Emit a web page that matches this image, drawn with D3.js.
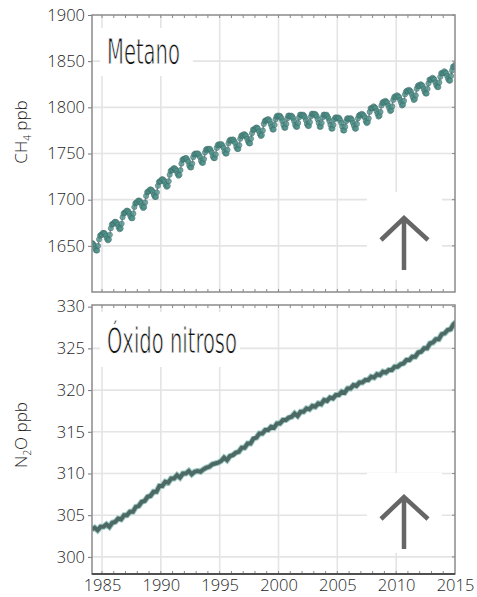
<!DOCTYPE html>
<html>
<head>
<meta charset="utf-8">
<script src="https://cdn.jsdelivr.net/npm/d3@7"></script>
<style>
  body { margin: 0; background: #fff; }
  .tick text { font-family: "Open Sans", sans-serif; font-weight: 300; font-size: 16.5px; fill: #1e1e1e; }
</style>
</head>
<body>
<div id="chart"></div>
<script>
// Chart size
var svgWidth = 477;
var svgHeight = 597;

// plot area edges
var left = 92, right = 455;
var top1 = 15, bottom1 = 292;
var top2 = 305, bottom2 = 574;

// tick values
var yearTicks = [1985, 1990, 1995, 2000, 2005, 2010, 2015];
var ch4Ticks = [1650, 1700, 1750, 1800, 1850, 1900];
var n2oTicks = [300, 305, 310, 315, 320, 325, 330];

// methane, monthly, first value Feb 1984
var ch4Start = 1984 + 1 / 12;
var ch4Values = [
  1653, 1653, 1652, 1650, 1647, 1645, 1645, 1650, 1657, 1661, 1662,
  1662, 1664, 1664, 1663, 1661, 1658, 1656, 1657, 1662, 1669, 1673, 1674,
  1674, 1676, 1676, 1675, 1673, 1670, 1668, 1669, 1674, 1681, 1685, 1686,
  1686, 1688, 1688, 1687, 1685, 1682, 1680, 1680, 1685, 1692, 1696, 1697,
  1697, 1699, 1699, 1698, 1696, 1693, 1691, 1692, 1697, 1704, 1708, 1709,
  1709, 1711, 1711, 1710, 1708, 1705, 1703, 1703, 1708, 1715, 1719, 1720,
  1720, 1722, 1722, 1721, 1719, 1716, 1714, 1715, 1720, 1727, 1731, 1732,
  1732, 1734, 1734, 1733, 1731, 1728, 1726, 1727, 1732, 1739, 1743, 1744,
  1744, 1745, 1745, 1743, 1741, 1737, 1735, 1735, 1739, 1746, 1749, 1750,
  1749, 1750, 1750, 1748, 1746, 1742, 1740, 1740, 1744, 1751, 1754, 1755,
  1754, 1755, 1755, 1753, 1751, 1747, 1745, 1745, 1749, 1756, 1759, 1760,
  1759, 1760, 1760, 1758, 1756, 1752, 1750, 1750, 1754, 1761, 1764, 1765,
  1764, 1765, 1765, 1763, 1761, 1757, 1755, 1755, 1759, 1766, 1769, 1770,
  1769, 1771, 1770, 1769, 1766, 1763, 1761, 1761, 1766, 1772, 1776, 1776,
  1776, 1778, 1778, 1777, 1774, 1771, 1769, 1770, 1775, 1782, 1785, 1786,
  1786, 1787, 1787, 1785, 1782, 1779, 1776, 1776, 1781, 1787, 1790, 1791,
  1790, 1791, 1790, 1788, 1785, 1781, 1778, 1778, 1782, 1788, 1791, 1791,
  1790, 1791, 1790, 1788, 1785, 1781, 1779, 1779, 1783, 1789, 1792, 1792,
  1791, 1792, 1791, 1789, 1786, 1782, 1780, 1780, 1784, 1790, 1793, 1793,
  1792, 1793, 1792, 1790, 1787, 1783, 1779, 1779, 1783, 1789, 1792, 1792,
  1791, 1792, 1790, 1788, 1785, 1781, 1777, 1777, 1781, 1787, 1789, 1789,
  1788, 1789, 1788, 1786, 1783, 1779, 1775, 1775, 1779, 1785, 1788, 1788,
  1787, 1788, 1788, 1786, 1783, 1780, 1777, 1777, 1782, 1788, 1791, 1792,
  1791, 1793, 1792, 1791, 1789, 1785, 1783, 1784, 1788, 1795, 1799, 1799,
  1799, 1801, 1800, 1799, 1796, 1793, 1790, 1791, 1795, 1802, 1805, 1806,
  1805, 1807, 1806, 1805, 1802, 1799, 1796, 1797, 1801, 1808, 1811, 1812,
  1811, 1813, 1812, 1811, 1808, 1805, 1802, 1803, 1807, 1814, 1817, 1818,
  1817, 1819, 1818, 1817, 1814, 1811, 1808, 1809, 1813, 1820, 1823, 1824,
  1823, 1825, 1824, 1823, 1820, 1817, 1815, 1815, 1820, 1826, 1830, 1830,
  1830, 1832, 1831, 1830, 1827, 1824, 1822, 1822, 1827, 1833, 1837, 1837,
  1837, 1839, 1838, 1837, 1834, 1831, 1829, 1829, 1834, 1840, 1844, 1844,
  1846
];

// nitrous oxide, quarterly, first value early 1984
var n2oStart = 1984.125;
var n2oValues = [
  303.3, 303.5, 303.2, 303.6,
  303.6, 303.9, 303.6, 304.1,
  304.2, 304.6, 304.5, 305.0,
  305.0, 305.4, 305.4, 306.0,
  306.1, 306.6, 306.7, 307.2,
  307.3, 307.8, 307.8, 308.5,
  308.5, 309.0, 308.9, 309.4,
  309.4, 309.8, 309.5, 310.0,
  310.0, 310.3, 309.9, 310.2,
  310.3, 310.2, 310.5, 310.7,
  310.8, 311.1, 311.2, 311.3,
  311.5, 311.9, 311.6, 312.1,
  312.2, 312.5, 312.6, 313.1,
  313.1, 313.6, 313.6, 314.2,
  314.3, 314.8, 314.8, 315.2,
  315.2, 315.6, 315.5, 316.0,
  316.0, 316.4, 316.4, 316.7,
  316.8, 317.2, 316.9, 317.4,
  317.4, 317.8, 317.7, 318.1,
  318.0, 318.4, 318.3, 318.8,
  318.7, 319.1, 319.0, 319.4,
  319.4, 319.8, 319.7, 320.2,
  320.2, 320.6, 320.5, 320.9,
  320.9, 321.2, 321.2, 321.6,
  321.5, 321.9, 321.8, 322.2,
  322.1, 322.4, 322.4, 322.8,
  322.8, 323.1, 323.2, 323.6,
  323.6, 324.0, 324.0, 324.5,
  324.6, 325.0, 325.0, 325.6,
  325.7, 326.1, 326.1, 326.7,
  326.8, 327.2, 327.3, 327.9,
  328.2
];

var svg = d3.select("#chart")
  .append("svg")
  .attr("width", svgWidth)
  .attr("height", svgHeight);

// scales
var xScale = d3.scaleLinear().domain([1984.15, 2015]).range([left, right]);
var yCh4 = d3.scaleLinear().domain([1600, 1900]).range([bottom1, top1]);
var yN2o = d3.scaleLinear().domain([297.95, 330.2]).range([bottom2, top2]);

var ch4Data = ch4Values.map(function(v, i) { return { t: ch4Start + i / 12, v: v }; });
var n2oData = n2oValues.map(function(v, i) { return { t: n2oStart + i / 4, v: v }; });

var defs = svg.append("defs");

function drawPanel(id, yScale, ticks, top, bottom) {
  var g = svg.append("g");

  defs.append("clipPath").attr("id", id)
    .append("rect")
    .attr("x", left).attr("y", top)
    .attr("width", right - left).attr("height", bottom - top);

  // grid
  g.selectAll(".vgrid")
    .data(yearTicks.slice(0, -1))
    .enter().append("line")
    .attr("x1", d => xScale(d)).attr("x2", d => xScale(d))
    .attr("y1", top).attr("y2", bottom)
    .attr("stroke", "#e4e4e4").attr("stroke-width", 1.6);

  g.selectAll(".hgrid")
    .data(ticks.filter(d => yScale(d) > top + 2))
    .enter().append("line")
    .attr("x1", left).attr("x2", right)
    .attr("y1", d => yScale(d)).attr("y2", d => yScale(d))
    .attr("stroke", "#e4e4e4").attr("stroke-width", 1.6);

  // minor year ticks on top and bottom borders
  var years = d3.range(1985, 2015);
  g.selectAll(null).data(years).enter().append("line")
    .attr("x1", d => xScale(d)).attr("x2", d => xScale(d))
    .attr("y1", top).attr("y2", top + 3)
    .attr("stroke", "#888").attr("stroke-width", 1);
  g.selectAll(null).data(years).enter().append("line")
    .attr("x1", d => xScale(d)).attr("x2", d => xScale(d))
    .attr("y1", bottom).attr("y2", bottom - 3)
    .attr("stroke", "#888").attr("stroke-width", 1);

  // right side ticks
  g.selectAll(null).data(ticks).enter().append("line")
    .attr("x1", right - 3).attr("x2", right)
    .attr("y1", d => yScale(d)).attr("y2", d => yScale(d))
    .attr("stroke", "#888").attr("stroke-width", 1);

  // left axis labels
  var axis = g.append("g")
    .attr("transform", `translate(${left}, 0)`)
    .call(d3.axisLeft(yScale).tickValues(ticks).tickSize(4).tickPadding(3).tickFormat(d3.format("d")));
  axis.select(".domain").remove();
  axis.selectAll(".tick line").attr("stroke", "#777");

  return g;
}

var g1 = drawPanel("clip1", yCh4, ch4Ticks, top1, bottom1);
var g2 = drawPanel("clip2", yN2o, n2oTicks, top2, bottom2);

// methane series
var ch4Line = d3.line().x(d => xScale(d.t)).y(d => yCh4(d.v));
var s1 = g1.append("g").attr("clip-path", "url(#clip1)");
s1.append("path")
  .datum(ch4Data)
  .attr("d", ch4Line)
  .attr("fill", "none")
  .attr("stroke", "#a58aa5")
  .attr("stroke-width", 1.3);
s1.selectAll("circle")
  .data(ch4Data)
  .enter().append("circle")
  .attr("cx", d => xScale(d.t))
  .attr("cy", d => yCh4(d.v))
  .attr("r", 2.6)
  .attr("fill", "#4f968c")
  .attr("stroke", "#3f6f6c")
  .attr("stroke-width", 0.8)
  .attr("opacity", 0.8);

// nitrous oxide series
var n2oLine = d3.line().x(d => xScale(d.t)).y(d => yN2o(d.v));
var s2 = g2.append("g").attr("clip-path", "url(#clip2)");
s2.append("path")
  .datum(n2oData)
  .attr("d", n2oLine)
  .attr("fill", "none")
  .attr("stroke", "#9cc7c0")
  .attr("stroke-width", 6);
s2.append("path")
  .datum(n2oData)
  .attr("d", n2oLine)
  .attr("fill", "none")
  .attr("stroke", "#4c6965")
  .attr("stroke-width", 4);

// borders
g1.append("rect")
  .attr("x", left).attr("y", top1)
  .attr("width", right - left).attr("height", bottom1 - top1)
  .attr("fill", "none").attr("stroke", "#8a8a8a").attr("stroke-width", 1.5);
g2.append("rect")
  .attr("x", left).attr("y", top2)
  .attr("width", right - left).attr("height", bottom2 - top2)
  .attr("fill", "none").attr("stroke", "#8a8a8a").attr("stroke-width", 1.5);
g2.append("line")
  .attr("x1", left).attr("x2", right)
  .attr("y1", bottom2).attr("y2", bottom2)
  .attr("stroke", "#333").attr("stroke-width", 1.5);

// x axis labels
var xAxis = svg.append("g")
  .attr("transform", `translate(0, ${bottom2})`)
  .call(d3.axisBottom(xScale).tickValues(yearTicks).tickSize(0).tickPadding(5).tickFormat(d3.format("d")));
xAxis.select(".domain").remove();

// titles with white boxes
function title(txt, x, y, len, box) {
  svg.append("rect")
    .attr("x", box[0]).attr("y", box[1]).attr("width", box[2]).attr("height", box[3])
    .attr("fill", "#fff");
  svg.append("text")
    .attr("x", x).attr("y", y)
    .attr("textLength", len)
    .attr("lengthAdjust", "spacingAndGlyphs")
    .style("font-family", "'Liberation Sans Narrow', 'DejaVu Sans Condensed', sans-serif")
    .style("font-size", "36px")
    .style("fill", "#111")
    .style("stroke", "#fff")
    .style("stroke-width", 0.9)
    .text(txt);
}
title("Metano", 107, 64, 73, [100, 28, 93, 48]);
title("Óxido nitroso", 107, 353, 130, [100, 312, 140, 55]);

// arrows
function arrow(yTop, box) {
  svg.append("rect")
    .attr("x", box[0]).attr("y", box[1]).attr("width", box[2]).attr("height", box[3])
    .attr("fill", "#fff");
  svg.append("path")
    .attr("d", `M404,${yTop + 52} L404,${yTop} M381,${yTop + 22} L404,${yTop} L428,${yTop + 22}`)
    .attr("fill", "none")
    .attr("stroke", "#666")
    .attr("stroke-width", 4.5);
}
arrow(218, [367, 192, 75, 88]);
arrow(497, [367, 473, 75, 80]);

// y axis titles
function yTitle(main, sub, rest, cx, cy) {
  var t = svg.append("text")
    .attr("transform", `translate(${cx}, ${cy}) rotate(-90)`)
    .attr("text-anchor", "middle")
    .style("font-family", "'Open Sans', sans-serif")
    .style("font-weight", 300)
    .style("font-size", "17px")
    .style("fill", "#1e1e1e");
  t.append("tspan").text(main);
  t.append("tspan").attr("dy", 4).style("font-size", "10px").text(sub);
  t.append("tspan").attr("dy", -4).text(rest);
}
yTitle("CH", "4", " ppb", 27, 132);
yTitle("N", "2", "O ppb", 27, 435);
</script>
</body>
</html>
